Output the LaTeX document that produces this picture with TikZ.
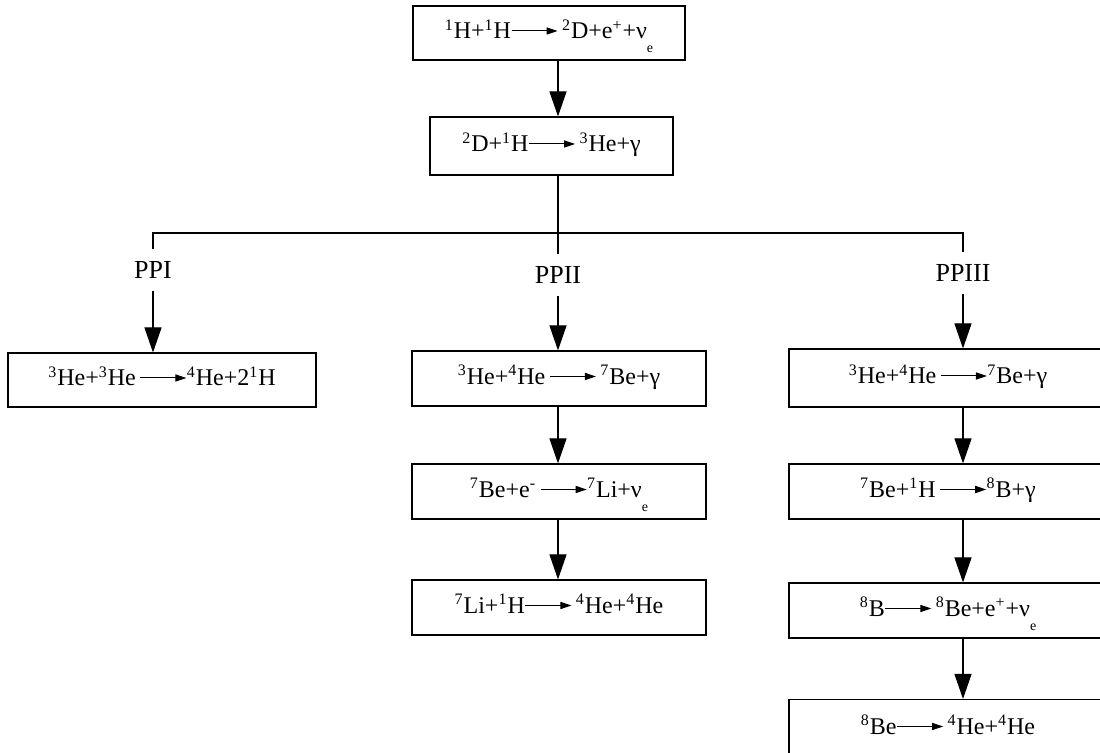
\documentclass[tikz,border=0pt]{standalone}
\usepackage{fontspec}
\setmainfont{Liberation Serif}
\usetikzlibrary{arrows.meta,positioning}

\newcommand{\iso}[1]{\textsuperscript{#1}}
\newcommand{\nue}{ν\raisebox{-0.58em}{\scriptsize e}}
\newcommand{\yields}{\tikz[baseline={(0pt,-4pt)}]\draw[line width=0.5pt,-{Triangle[length=5.5pt,width=3.6pt]}] (0pt,0pt) -- (23pt,0pt);}

\begin{document}
\begin{tikzpicture}[x=0.5pt,y=-0.5pt]
\tikzstyle{rbox}=[draw,line width=0.55pt,font=\fontsize{12}{14}\selectfont,text height=8pt,text depth=2pt,inner sep=0pt,minimum height=27.5pt]
\tikzstyle{chain}=[font=\fontsize{13}{15}\selectfont,inner xsep=0pt,inner ysep=6pt]
\tikzstyle{flow}=[line width=0.55pt,-{Triangle[length=12.5pt,width=8.5pt]}]
\useasboundingbox (0,0) rectangle (1100,753);
\clip (0,0) rectangle (1100,753);

 % common steps
 \node[rbox,minimum width=136pt,minimum height=27pt] (pp0) at (549,33) {\iso{1}H+\iso{1}H\yields\,\iso{2}D+e\iso{+}+\nue};
 \node[rbox,minimum width=121.5pt,minimum height=29pt] (pp1) at (551.5,146) {\iso{2}D+\iso{1}H\yields\,\iso{3}He+γ};

 % branch labels
 \node[chain] (ppi) at (153,270) {PPI};
 \node[chain] (ppii) at (558,275) {PPII};
 \node[chain] (ppiii) at (963,273) {PPIII};
 \coordinate (bus) at (558,233);

 % PPI
 \node[rbox,minimum width=154pt,minimum height=27pt] (a1) at (162,380) {\iso{3}He+\iso{3}He\,\yields\iso{4}He+2\iso{1}H};

 % PPII
 \node[rbox,minimum width=147pt] (b1) at (559,378.5) {\iso{3}He+\iso{4}He\,\yields\,\iso{7}Be+γ};
 \node[rbox,minimum width=147pt] (b2) at (559,491.5) {\iso{7}Be+e\iso{-}\,\yields\iso{7}Li+\nue};
 \node[rbox,minimum width=147pt] (b3) at (559,607.5) {\iso{7}Li+\iso{1}H\yields\,\iso{4}He+\iso{4}He};

 % PPIII
 \node[rbox,minimum width=159pt,minimum height=29pt] (c1) at (948,378) {\iso{3}He+\iso{4}He\,\yields\iso{7}Be+γ};
 \node[rbox,minimum width=159pt] (c2) at (948,491.5) {\iso{7}Be+\iso{1}H\,\yields\iso{8}B+γ};
 \node[rbox,minimum width=159pt] (c3) at (948,610.5) {\iso{8}B\yields\,\iso{8}Be+e\iso{+}+\nue};
 \node[rbox,minimum width=159pt,minimum height=29pt] (c4) at (948,728.5) {\iso{8}Be\yields\,\iso{4}He+\iso{4}He};

 \draw[flow] (pp0.south -| ppii) -- (pp1.north -| ppii);
 \draw[line width=0.55pt] (pp1.south -| ppii) -- (ppii.north);
 \draw[line width=0.55pt] (ppi.north) -- (ppi.north |- bus) -- (ppiii.north |- bus) -- (ppiii.north);

 \draw[flow] (ppi.south) -- (ppi.south |- a1.north);
 \draw[flow] (ppii.south) -- (ppii.south |- b1.north);
 \draw[flow] (b1.south -| ppii) -- (b2.north -| ppii);
 \draw[flow] (b2.south -| ppii) -- (b3.north -| ppii);
 \draw[flow] (ppiii.south) -- (ppiii.south |- c1.north);
 \draw[flow] (c1.south -| ppiii) -- (c2.north -| ppiii);
 \draw[flow] (c2.south -| ppiii) -- (c3.north -| ppiii);
 \draw[flow] (c3.south -| ppiii) -- (c4.north -| ppiii);
\end{tikzpicture}
\end{document}
